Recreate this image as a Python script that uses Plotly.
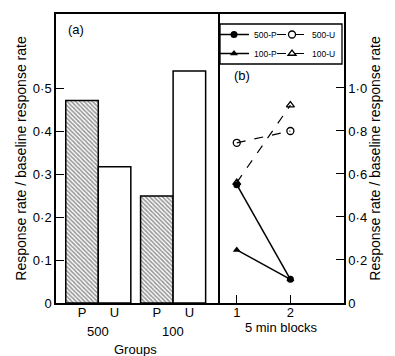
import plotly.graph_objects as go

# ---- data ----
bar_labels = ["P", "U", "P", "U"]
bar_groups = ["500", "500", "100", "100"]
bar_x = [0, 1, 2.3, 3.3]
bar_values = [0.473, 0.318, 0.250, 0.542]

blocks = [1, 2]
p500 = [0.55, 0.11]
u500 = [0.745, 0.80]
p100 = [0.247, 0.11]
u100 = [0.56, 0.92]

FONT = "Liberation Sans"
FS = 13
fig = go.Figure()

# hatched P bars
fig.add_trace(go.Bar(
    x=[bar_x[0], bar_x[2]], y=[bar_values[0], bar_values[2]], width=1.0,
    marker=dict(color="white", line=dict(color="black", width=1.5),
                pattern=dict(shape="\\", fgcolor="#333", bgcolor="white", size=3, solidity=0.55)),
    showlegend=False, xaxis="x", yaxis="y"))
# open U bars
fig.add_trace(go.Bar(
    x=[bar_x[1], bar_x[3]], y=[bar_values[1], bar_values[3]], width=1.0,
    marker=dict(color="white", line=dict(color="black", width=1.5)),
    showlegend=False, xaxis="x", yaxis="y"))

ms = 7
fig.add_trace(go.Scatter(x=blocks, y=p500, mode="lines+markers", name="500-P",
    line=dict(color="black", width=1.5), marker=dict(symbol="circle", size=ms, color="black"),
    xaxis="x2", yaxis="y2", legend="legend"))
fig.add_trace(go.Scatter(x=blocks, y=u500, mode="lines+markers", name="500-U",
    line=dict(color="black", width=1.2, dash="dash"),
    marker=dict(symbol="circle-open", size=ms, color="black", line=dict(width=1.3)),
    xaxis="x2", yaxis="y2", legend="legend2"))
fig.add_trace(go.Scatter(x=blocks, y=p100, mode="lines+markers", name="100-P",
    line=dict(color="black", width=1.5), marker=dict(symbol="triangle-up", size=ms, color="black"),
    xaxis="x2", yaxis="y2", legend="legend3"))
fig.add_trace(go.Scatter(x=blocks, y=u100, mode="lines+markers", name="100-U",
    line=dict(color="black", width=1.2, dash="dash"),
    marker=dict(symbol="triangle-up-open", size=ms, color="black", line=dict(width=1.3)),
    xaxis="x2", yaxis="y2", legend="legend4"))

# page body has an 8px margin: compensate so the plot lands at the target pixels
OFF = 8
W, H = 395 - OFF, 356 - OFF
PL, PR, PT, PB = 56, 344, 14, 303          # plot-area edges in screen pixels
L, T = PL - OFF, PT - OFF
R, B = (W + OFF) - PR, (H + OFF) - PB
pw, ph = PR - PL, PB - PT
split = (218 - PL) / pw

def px(xp):
    return (xp - PL) / pw

def py(yp):
    return (PB - yp) / ph

axis_common = dict(showline=True, linecolor="black", linewidth=1.5, showgrid=False,
                   zeroline=False, ticks="inside", ticklen=8, tickcolor="black", tickwidth=1.3,
                   automargin=False,
                   tickfont=dict(family=FONT, size=FS, color="black"))

def leg(xs, ys):
    return dict(orientation="h", x=px(xs), y=py(ys), xanchor="left", yanchor="middle",
                font=dict(family=FONT, size=8.5), bgcolor="rgba(0,0,0,0)",
                itemwidth=30, tracegroupgap=0)

def ann(text, x, y, xref="paper"):
    return dict(text=text, x=x, y=py(y), xref=xref, yref="paper", showarrow=False,
                xanchor="center", yanchor="middle", font=dict(family=FONT, size=FS))

fig.update_layout(
    width=W, height=H, margin=dict(l=L, r=R, t=T, b=B, autoexpand=False),
    paper_bgcolor="white", plot_bgcolor="white",
    font=dict(family=FONT, size=FS, color="black"),
    barmode="overlay",
    xaxis=dict(domain=[0, split], range=[-0.8, 4.18], tickmode="array",
               tickvals=bar_x, ticktext=bar_labels, mirror=True, ticks="",
               showline=True, linecolor="black", linewidth=1.5, showgrid=False, zeroline=False,
               automargin=False, ticklabelstandoff=-3,
               tickfont=dict(family=FONT, size=FS, color="black"), anchor="y"),
    yaxis=dict(domain=[0, 1], range=[0, 0.675], tickmode="array",
               tickvals=[0, 0.1, 0.2, 0.3, 0.4, 0.5],
               ticktext=["0", "0·1", "0·2", "0·3", "0·4", "0·5"],
               mirror=True, anchor="x",
               title=dict(text="Response rate / baseline response rate",
                          font=dict(family=FONT, size=14), standoff=3),
               **axis_common),
    xaxis2=dict(domain=[split, 1], range=[0.65, 3.0], tickmode="array",
                tickvals=[1, 2], ticktext=["1", "2"], mirror=True, anchor="y2",
                ticklabelstandoff=-3,
                title=dict(text="5 min blocks", font=dict(family=FONT, size=FS), standoff=3),
                **axis_common),
    yaxis2=dict(domain=[0, 1], range=[0, 1.344], side="right", anchor="x2", mirror=False,
                tickmode="array", tickvals=[0, 0.2, 0.4, 0.6, 0.8, 1.0],
                ticktext=["0", "0·2", "0·4", "0·6", "0·8", "1·0"],
                title=dict(text="Response rate / baseline response rate",
                           font=dict(family=FONT, size=14), standoff=1),
                **axis_common),
    legend=leg(214, 34.5),
    legend2=leg(272, 34.5),
    legend3=leg(214, 53.5),
    legend4=leg(272, 53.5),
    shapes=[dict(type="rect", xref="paper", yref="paper", x0=px(220), x1=px(342),
                 y0=py(64), y1=py(24), line=dict(color="black", width=1.3))],
    annotations=[
        ann("(a)", px(76), 30),
        ann("(b)", px(242), 76),
        ann("500", (bar_x[0] + bar_x[1]) / 2, 331, "x"),
        ann("100", (bar_x[2] + bar_x[3]) / 2, 331, "x"),
        ann("Groups", (bar_x[0] + bar_x[3]) / 2, 349, "x"),
    ],
)

fig.write_html("out.html")
